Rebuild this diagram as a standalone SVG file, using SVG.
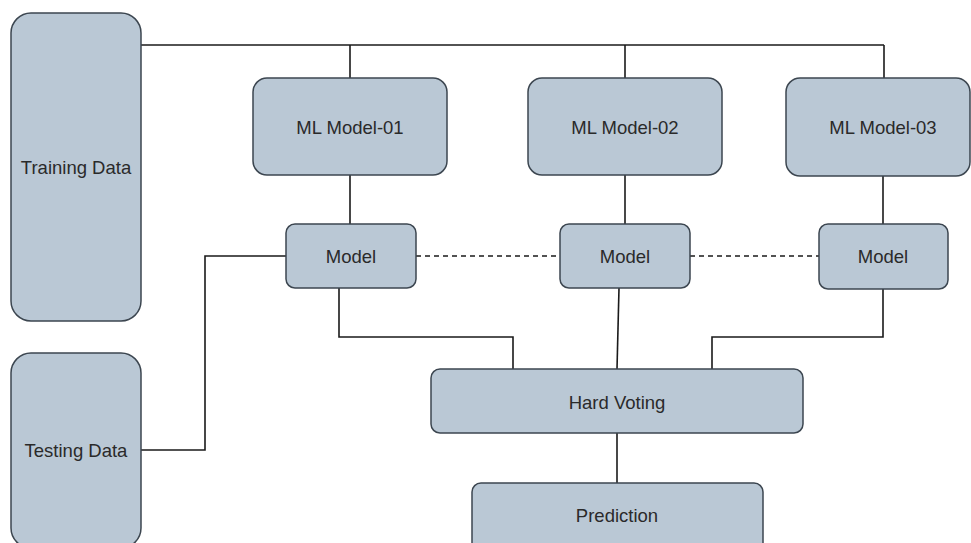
<svg xmlns="http://www.w3.org/2000/svg" width="971" height="543" viewBox="0 0 971 543">
<style>
.n{fill:#bac8d5;stroke:#3c4650;stroke-width:1.5}
.t{font-family:"Liberation Sans",Arial,sans-serif;font-size:18.5px;fill:#2a2a2a;text-anchor:middle;dominant-baseline:central}
.c{fill:none;stroke:#1a1a1a;stroke-width:1.6}
.d{stroke-dasharray:5,4}
</style>
<rect width="971" height="543" fill="#fff"/>
<g id="connectors">
<path class="c" d="M141 45 H884"/>
<path class="c" d="M350 45 V78"/>
<path class="c" d="M625 45 V78"/>
<path class="c" d="M884 45 V78"/>
<path class="c" d="M350 175 V224"/>
<path class="c" d="M625 175 V224"/>
<path class="c" d="M883 176 V224"/>
<path class="c d" d="M416 256 H560"/>
<path class="c d" d="M690 256 H819"/>
<path class="c" d="M141 450 H205 V256 H286"/>
<path class="c" d="M339 288 V337 H513 V369"/>
<path class="c" d="M619 288 L617 369"/>
<path class="c" d="M883 289 V337 H712 V369"/>
<path class="c" d="M617 433 V483"/>
</g>
<g id="training"><rect class="n" x="11" y="13" width="130" height="308" rx="20"/><text class="t" x="76" y="167">Training Data</text></g>
<g id="testing"><rect class="n" x="11" y="353" width="130" height="195" rx="20"/><text class="t" x="76" y="450">Testing Data</text></g>
<g id="ml1"><rect class="n" x="253" y="78" width="194" height="97" rx="14"/><text class="t" x="350" y="127">ML Model-01</text></g>
<g id="ml2"><rect class="n" x="528" y="78" width="194" height="97" rx="14"/><text class="t" x="625" y="127">ML Model-02</text></g>
<g id="ml3"><rect class="n" x="786" y="78" width="184" height="98" rx="14"/><text class="t" x="883" y="127">ML Model-03</text></g>
<g id="model1"><rect class="n" x="286" y="224" width="130" height="64" rx="9"/><text class="t" x="351" y="256">Model</text></g>
<g id="model2"><rect class="n" x="560" y="224" width="130" height="64" rx="9"/><text class="t" x="625" y="256">Model</text></g>
<g id="model3"><rect class="n" x="819" y="224" width="129" height="65" rx="9"/><text class="t" x="883" y="256">Model</text></g>
<g id="voting"><rect class="n" x="431" y="369" width="372" height="64" rx="9"/><text class="t" x="617" y="402">Hard Voting</text></g>
<g id="prediction"><rect class="n" x="472" y="483" width="291" height="70" rx="9"/><text class="t" x="617" y="515">Prediction</text></g>
</svg>
